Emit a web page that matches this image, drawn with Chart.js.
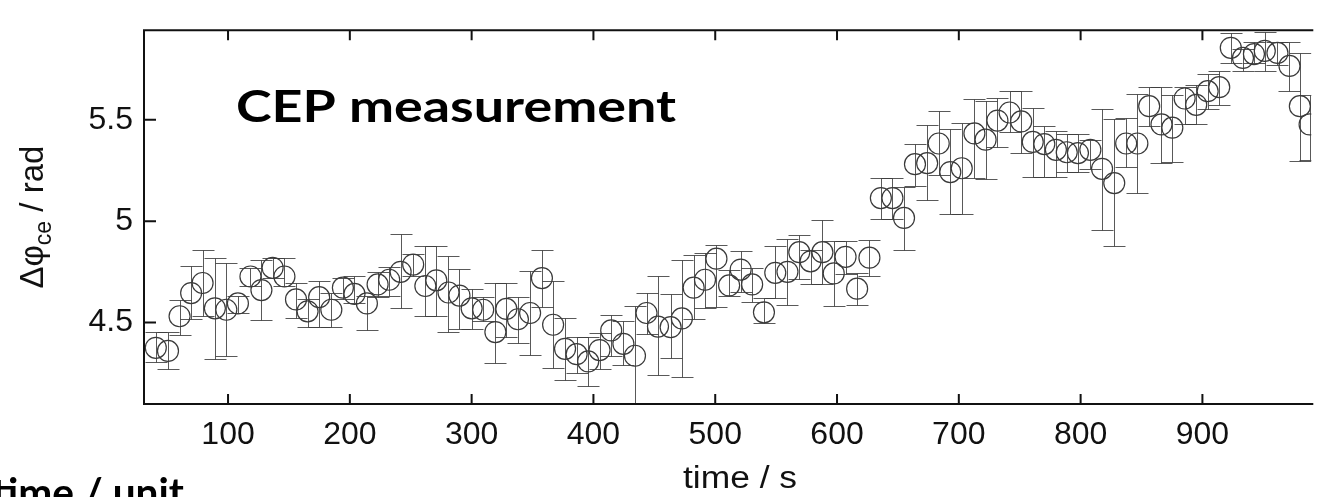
<!DOCTYPE html>
<html><head><meta charset="utf-8">
<script src="https://cdn.jsdelivr.net/npm/chart.js@4/dist/chart.umd.min.js"></script>
<style>html,body{margin:0;padding:0;background:#fff;overflow:hidden}canvas{display:block}</style>
</head><body>
<canvas id="c" width="1323" height="497"></canvas>
<script>
const times = [40.7,50.7,60.2,69.7,79.1,89.2,98.6,108.1,118.4,127.4,136.6,146.3,155.8,165.3,174.8,184.8,194.3,203.8,214,222.8,232.3,241.7,252,262,271,281,290,300,309.5,319.5,328.5,338,348,357.7,366.9,376.7,386.2,395.7,405,414.6,424.6,434.1,443.6,453,463.4,472.6,482.3,491.6,501,511.4,520.9,530.3,540,549.3,559.3,569,578.3,588,597.3,607,616.5,626.6,636,645.5,655,664,674,683.5,693,702.4,712.8,722,731.7,741.7,751.2,760.7,770.2,779.7,788.6,797.8,808,817.6,827.6,837.4,846.6,856.3,866.4,875.3,885.4,894.9,904.3,913.8,923.3,933.3,942.3,951.2,961.6,971.5,980,988];
const values = [4.375,4.36,4.531,4.645,4.695,4.57,4.563,4.594,4.727,4.66,4.77,4.727,4.614,4.555,4.625,4.563,4.672,4.641,4.594,4.688,4.711,4.75,4.786,4.68,4.708,4.648,4.633,4.57,4.563,4.453,4.567,4.516,4.547,4.719,4.489,4.37,4.344,4.308,4.364,4.461,4.395,4.336,4.547,4.48,4.477,4.52,4.672,4.711,4.815,4.683,4.761,4.688,4.55,4.745,4.75,4.847,4.802,4.847,4.742,4.824,4.667,4.82,5.114,5.114,5.016,5.281,5.286,5.383,5.242,5.261,5.433,5.402,5.496,5.536,5.492,5.391,5.38,5.352,5.34,5.336,5.352,5.258,5.188,5.383,5.383,5.567,5.477,5.461,5.605,5.574,5.641,5.661,5.855,5.805,5.824,5.84,5.83,5.766,5.567,5.477];
const errHigh = [4.453,4.453,4.613,4.777,4.859,4.817,4.792,4.633,4.77,4.81,4.817,4.817,4.695,4.617,4.703,4.648,4.719,4.727,4.633,4.75,4.773,4.938,4.84,4.875,4.875,4.83,4.763,4.667,4.625,4.695,4.695,4.625,4.755,4.859,4.703,4.52,4.43,4.43,4.449,4.539,4.508,4.583,4.648,4.727,4.641,4.808,4.833,4.844,4.883,4.76,4.855,4.77,4.62,4.875,4.914,4.933,4.86,5.008,4.9,4.9,4.742,4.906,5.214,5.214,5.167,5.383,5.473,5.544,5.453,5.485,5.605,5.594,5.609,5.64,5.641,5.558,5.469,5.445,5.43,5.43,5.402,5.552,5.505,5.508,5.625,5.664,5.664,5.62,5.664,5.672,5.724,5.742,5.93,5.849,5.883,5.933,5.883,5.883,5.828,5.62];
const errLow = [4.305,4.269,4.437,4.516,4.531,4.32,4.333,4.547,4.68,4.51,4.719,4.68,4.524,4.48,4.48,4.48,4.617,4.594,4.461,4.625,4.633,4.57,4.727,4.531,4.531,4.453,4.469,4.469,4.508,4.3,4.43,4.4,4.34,4.578,4.277,4.214,4.253,4.188,4.273,4.336,4.289,4.05,4.445,4.242,4.323,4.23,4.519,4.573,4.578,4.63,4.65,4.6,4.5,4.62,4.586,4.714,4.69,4.688,4.58,4.74,4.586,4.73,5.011,5.011,4.859,5.172,5.102,5.227,5.036,5.036,5.211,5.208,5.367,5.44,5.336,5.219,5.219,5.219,5.242,5.242,5.258,4.958,4.875,5.266,5.141,5.469,5.289,5.292,5.477,5.477,5.552,5.574,5.78,5.742,5.78,5.742,5.77,5.641,5.297,5.3];
const xTicks = [100,200,300,400,500,600,700,800,900];
const yTicks = [4.5,5,5.5];
const xTitle = 'time / s';
const yTitleMain = 'Δφ';
const yTitleSub = 'ce';
const yTitleTail = ' / rad';
const chartLabel = 'CEP measurement';
const cornerLabel = 'time / unit';

const TICK_FONT = {family:'"Liberation Sans", Arial, sans-serif', size:32};

function stretchedText(ctx, text, x, y, font, width){
  ctx.save();
  ctx.font = font;
  const w = ctx.measureText(text).width;
  const sx = width / w;
  ctx.translate(x, y);
  ctx.scale(sx, 1);
  ctx.textAlign = 'left';
  ctx.fillText(text, 0, 0);
  ctx.restore();
}

const deco = {
  id:'deco',
  beforeDatasetsDraw(chart){
    const {ctx, chartArea:a, scales:{x,y}} = chart;
    ctx.save();
    ctx.beginPath(); ctx.rect(a.left, a.top, a.right-a.left, a.bottom-a.top); ctx.clip();
    ctx.strokeStyle='rgba(60,60,60,0.85)'; ctx.lineWidth=1;
    const cap=11;
    times.forEach((t,i)=>{
      const px = Math.round(x.getPixelForValue(t))+0.5;
      const yh = Math.round(y.getPixelForValue(errHigh[i]))+0.5;
      const yl = Math.round(y.getPixelForValue(errLow[i]))+0.5;
      ctx.beginPath();
      ctx.moveTo(px, yh); ctx.lineTo(px, yl);
      ctx.moveTo(px-cap, yh); ctx.lineTo(px+cap, yh);
      ctx.moveTo(px-cap, yl); ctx.lineTo(px+cap, yl);
      ctx.stroke();
    });
    ctx.restore();
  },
  afterDraw(chart){
    const {ctx, chartArea:a, scales:{x,y}} = chart;
    ctx.save();
    ctx.strokeStyle='#111'; ctx.lineWidth=2;
    ctx.beginPath();
    ctx.moveTo(a.left, a.top); ctx.lineTo(a.right+2, a.top);
    ctx.moveTo(a.left, a.top-1); ctx.lineTo(a.left, a.bottom+1);
    ctx.moveTo(a.left, a.bottom); ctx.lineTo(a.right+2, a.bottom);
    xTicks.forEach(v=>{
      const px = x.getPixelForValue(v);
      ctx.moveTo(px, a.bottom); ctx.lineTo(px, a.bottom-10);
      ctx.moveTo(px, a.top); ctx.lineTo(px, a.top+10);
    });
    yTicks.forEach(v=>{
      const py = y.getPixelForValue(v);
      ctx.moveTo(a.left, py); ctx.lineTo(a.left+12, py);
    });
    ctx.stroke();

    // x title
    ctx.fillStyle='#111';
    stretchedText(ctx, xTitle, 683, 488, '31px "Liberation Sans", Arial, sans-serif', 114);

    // y title (rotated, with subscript)
    ctx.save();
    ctx.translate(43, (a.top+a.bottom)/2);
    ctx.rotate(-Math.PI/2);
    ctx.textAlign='left';
    const fMain='33px "Liberation Sans", Arial, sans-serif';
    const fSub='23px "Liberation Sans", Arial, sans-serif';
    ctx.font=fMain; const w1=ctx.measureText(yTitleMain).width; const w3=ctx.measureText(yTitleTail).width;
    ctx.font=fSub; const w2=ctx.measureText(yTitleSub).width;
    let sx = -(w1+w2+w3)/2;
    ctx.font=fMain; ctx.fillText(yTitleMain, sx, 0); sx+=w1;
    ctx.font=fSub; ctx.fillText(yTitleSub, sx, 8); sx+=w2;
    ctx.font=fMain; ctx.fillText(yTitleTail, sx, 0);
    ctx.restore();

    // annotations
    ctx.fillStyle='#000';
    stretchedText(ctx, chartLabel, 236, 122, 'bold 44px Lato, "Open Sans", sans-serif', 440);
    stretchedText(ctx, cornerLabel, -8, 507, 'bold 40px Lato, "Open Sans", sans-serif', 192);
    ctx.restore();
  }
};

new Chart(document.getElementById('c'), {
  type:'scatter',
  data:{datasets:[{
    data: times.map((t,i)=>({x:t, y:values[i]})),
    showLine:false,
    pointRadius:10.5, pointHoverRadius:10.5,
    borderColor:'#3a3a3a', borderWidth:1.2,
    backgroundColor:'rgba(0,0,0,0)'
  }]},
  options:{
    responsive:false, devicePixelRatio:1, animation:false,
    layout:{padding:{top:11,left:0,right:0,bottom:0}},
    plugins:{legend:{display:false}, tooltip:{enabled:false}},
    scales:{
      x:{type:'linear', position:'bottom', min:31, max:989.4,
        afterBuildTicks: s=>{ s.ticks = xTicks.map(v=>({value:v})); },
        afterFit: s=>{ s.height = 93; },
        grid:{display:false, drawTicks:false}, border:{display:false},
        ticks:{font:TICK_FONT, color:'#111', padding:12, maxRotation:0, autoSkip:false}
      },
      y:{type:'linear', position:'left', min:4.098, max:5.942,
        afterBuildTicks: s=>{ s.ticks = yTicks.map(v=>({value:v})); },
        afterFit: s=>{ s.width = 144; },
        grid:{display:false, drawTicks:false}, border:{display:false},
        ticks:{font:TICK_FONT, color:'#111', padding:11, callback:v=>String(v)}
      }
    }
  },
  plugins:[deco]
});
</script>
</body></html>
